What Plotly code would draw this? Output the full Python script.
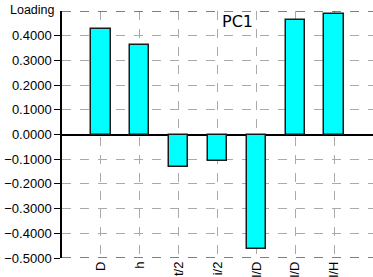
import plotly.graph_objects as go

labels = ["D", "h", "t/2", "i/2", "l/D", "l/D", "l/H"]
loadings = [0.426, 0.361, -0.132, -0.108, -0.464, 0.464, 0.487]
ytick_vals = [0.4, 0.3, 0.2, 0.1, 0.0, -0.1, -0.2, -0.3, -0.4, -0.5]

xpos = list(range(len(labels)))

fig = go.Figure()
fig.add_trace(go.Bar(
    x=xpos, y=loadings, width=0.5,
    marker=dict(color="#00FFFF", line=dict(color="#1a1a1a", width=1.5)),
))

fig.update_layout(
    width=373, height=277,
    margin=dict(l=62, r=0, t=11, b=19),
    paper_bgcolor="white", plot_bgcolor="white",
    showlegend=False,
    font=dict(family="Liberation Sans, Arial", size=13, color="black"),
    bargap=0,
)
fig.update_xaxes(
    range=[-1, 7], tickmode="array", tickvals=xpos, ticktext=labels,
    tickangle=-90, showgrid=True, gridcolor="#aaaaaa", griddash="dash", gridwidth=1,
    zeroline=False, showline=False, ticks="", automargin=False,
    tickfont=dict(size=13),
)
fig.update_yaxes(
    range=[-0.5, 0.5], tickmode="array", tickvals=ytick_vals,
    tickformat=".4f", showgrid=True, gridcolor="#aaaaaa", griddash="dash", gridwidth=1,
    zeroline=True, zerolinecolor="black", zerolinewidth=1.5,
    showline=True, linecolor="black", linewidth=1.5,
    ticks="outside", ticklen=6, tickcolor="black", tickwidth=1.2,
    automargin=False,
)
for yv in (0.5, -0.5):
    fig.add_shape(type="line", xref="paper", x0=0, x1=1, yref="y", y0=yv, y1=yv,
                  line=dict(color="#555555", width=1.5, dash="dash"))
fig.add_annotation(text="Loading", xref="paper", yref="paper", x=0, y=1,
                   xanchor="right", yanchor="middle", xshift=-5, yshift=1,
                   showarrow=False, font=dict(size=12.5))
fig.add_annotation(text="PC1", xref="paper", yref="paper", x=0.563, y=1,
                   xanchor="center", yanchor="middle", yshift=-10,
                   showarrow=False, font=dict(family="DejaVu Sans", size=16))

fig.write_html("out.html", config={"displayModeBar": False},
               post_script="document.body.style.margin='0';")
